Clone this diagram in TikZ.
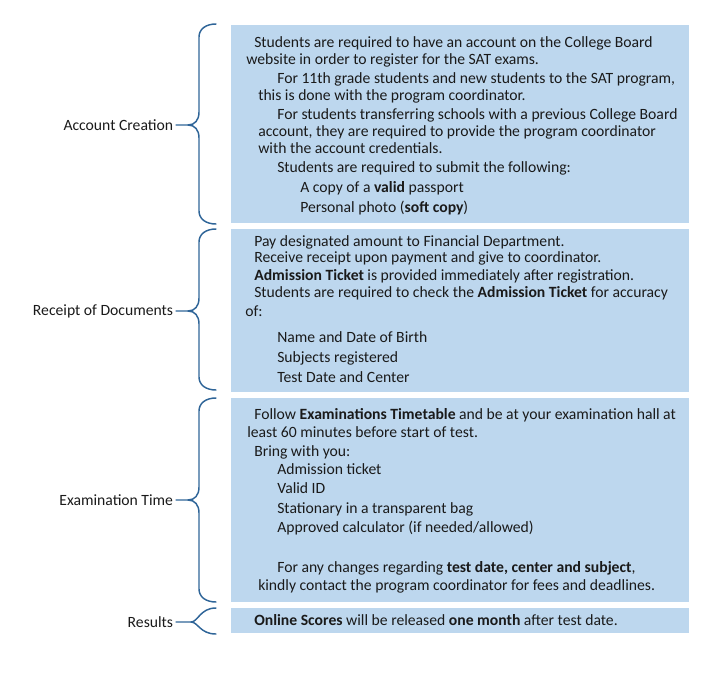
\documentclass[tikz,border=0pt]{standalone}
\usepackage{fontspec}
\setmainfont{Carlito}
\usetikzlibrary{fit}
\definecolor{boxblue}{HTML}{BDD7EE}
\definecolor{brcblue}{HTML}{2F6598}
\definecolor{txt}{HTML}{1A1A1A}
\tikzset{
  box/.style={fill=boxblue, draw=none, inner sep=0pt},
  tl/.style={anchor=base west, inner sep=0pt, text=txt, font=\fontsize{11.75pt}{13pt}\selectfont},
  lab/.style={anchor=east, inner sep=2pt, text=txt, font=\fontsize{11.75pt}{13pt}\selectfont},
  brc/.style={draw=brcblue, line width=1.1pt, line cap=round}
}
\begin{document}
\begin{tikzpicture}[x=0.75pt, y=-0.75pt]
\useasboundingbox (0,0) rectangle (717,675);
% boxes
\coordinate (b1a) at (231,25);  \coordinate (b1b) at (689,223);
\coordinate (b2a) at (231,229); \coordinate (b2b) at (689,392);
\coordinate (b3a) at (231,398); \coordinate (b3b) at (689,602);
\coordinate (b4a) at (231,608); \coordinate (b4b) at (689,633);
\node[box, fit=(b1a)(b1b)] (b1) {};
\node[box, fit=(b2a)(b2b)] (b2) {};
\node[box, fit=(b3a)(b3b)] (b3) {};
\node[box, fit=(b4a)(b4b)] (b4) {};
% box 1 text
\node[tl] (t1)  at (254,47)  {Students are required to have an account on the College Board};
\node[tl] (t2)  at (246,64)  {website in order to register for the SAT exams.};
\node[tl] (t3)  at (277,83)  {For 11th grade students and new students to the SAT program,};
\node[tl] (t4)  at (258,100) {this is done with the program coordinator.};
\node[tl] (t5)  at (277,119) {For students transferring schools with a previous College Board};
\node[tl] (t6)  at (258,136) {account, they are required to provide the program coordinator};
\node[tl] (t7)  at (258,153) {with the account credentials.};
\node[tl] (t8)  at (277,172) {Students are required to submit the following:};
\node[tl] (t9)  at (300,192) {A copy of a \textbf{valid} passport};
\node[tl] (t10) at (300,212) {Personal photo (\textbf{soft copy})};
% box 2 text
\node[tl] (t11) at (254,246) {Pay designated amount to Financial Department.};
\node[tl] (t12) at (254,262) {Receive receipt upon payment and give to coordinator.};
\node[tl] (t13) at (254,280) {\textbf{Admission Ticket} is provided immediately after registration.};
\node[tl] (t14) at (254,297) {Students are required to check the \textbf{Admission Ticket} for accuracy};
\node[tl] (t15) at (245,316) {of:};
\node[tl] (t16) at (277,342) {Name and Date of Birth};
\node[tl] (t17) at (277,362) {Subjects registered};
\node[tl] (t18) at (277,382) {Test Date and Center};
% box 3 text
\node[tl] (t19) at (254,419) {Follow \textbf{Examinations Timetable} and be at your examination hall at};
\node[tl] (t20) at (247,437) {least 60 minutes before start of test.};
\node[tl] (t21) at (254,456) {Bring with you:};
\node[tl] (t22) at (277,474) {Admission ticket};
\node[tl] (t23) at (277,493) {Valid ID};
\node[tl] (t24) at (277,513) {Stationary in a transparent bag};
\node[tl] (t25) at (277,532) {Approved calculator (if needed/allowed)};
\node[tl] (t26) at (277,572) {For any changes regarding \textbf{test date, center and subject},};
\node[tl] (t27) at (258,590) {kindly contact the program coordinator for fees and deadlines.};
% box 4 text
\node[tl] (t28) at (254,625) {\textbf{Online Scores} will be released \textbf{one month} after test date.};
% labels
\node[lab] (l1) at (176,125) {Account Creation};
\node[lab] (l2) at (176,311) {Receipt of Documents};
\node[lab] (l3) at (176,500) {Examination Time};
\node[lab] (l4) at (176,622) {Results};
% braces
\coordinate (k1) at (188,125);
\draw[brc] (l1.east) -- (k1) .. controls (195,125) and (199,120) .. (199,112) -- (199,37) .. controls (199,29) and (206,24) .. (216,24);
\draw[brc] (k1) .. controls (195,125) and (199,130) .. (199,138) -- (199,211) .. controls (199,219) and (206,224) .. (216,224);
\coordinate (k2) at (188,311);
\draw[brc] (l2.east) -- (k2) .. controls (195,311) and (199,306) .. (199,298) -- (199,242) .. controls (199,234) and (206,229) .. (216,229);
\draw[brc] (k2) .. controls (195,311) and (199,316) .. (199,324) -- (199,377) .. controls (199,385) and (206,390) .. (216,390);
\coordinate (k3) at (188,500);
\draw[brc] (l3.east) -- (k3) .. controls (195,500) and (199,495) .. (199,487) -- (199,411) .. controls (199,403) and (206,398) .. (216,398);
\draw[brc] (k3) .. controls (195,500) and (199,505) .. (199,513) -- (199,589) .. controls (199,597) and (206,602) .. (216,602);
\coordinate (k4) at (191,622);
\draw[brc] (l4.east) -- (k4) .. controls (198,622) and (200,608) .. (216,608);
\draw[brc] (k4) .. controls (198,622) and (200,634) .. (216,634);
\end{tikzpicture}
\end{document}
